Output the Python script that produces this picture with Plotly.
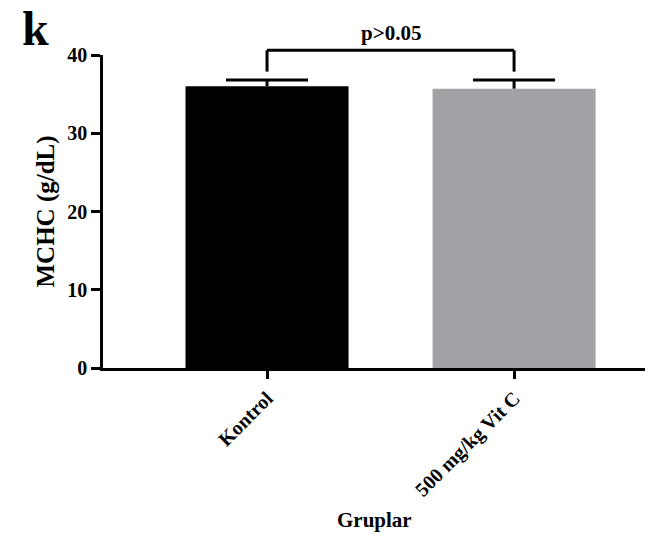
import plotly.graph_objects as go

categories = ["Kontrol", "500 mg/kg Vit C"]
means = [36.0, 35.7]
errors = [0.8, 1.1]
colors = ["#000000", "#a2a1a5"]
y_ticks = [0, 10, 20, 30, 40]
p_text = "p>0.05"

FONT = "Liberation Serif"
xpos = list(range(len(categories)))

fig = go.Figure()
fig.add_trace(go.Bar(
    x=xpos, y=means, width=0.66,
    marker=dict(color=colors, line=dict(width=0)),
    hoverinfo="skip",
))

# upper-only error bars (stem + cap)
hw = 0.166
ex, ey = [], []
for xi, m, e in zip(xpos, means, errors):
    ex += [xi, xi, None, xi - hw, xi + hw, None]
    ey += [m, m + e, None, m + e, m + e, None]
fig.add_trace(go.Scatter(x=ex, y=ey, mode="lines", line=dict(color="#000", width=3),
                         hoverinfo="skip", cliponaxis=False))

fig.update_layout(
    width=663, height=541,
    margin=dict(l=103, r=18, t=55, b=173),
    plot_bgcolor="white", paper_bgcolor="white",
    showlegend=False,
    xaxis=dict(range=[-0.664, 1.53], tickmode="array", tickvals=xpos, ticktext=categories,
               tickangle=-45, ticks="outside", ticklen=8, tickwidth=2.5, tickcolor="#000",
               showline=True, linewidth=2.5, linecolor="#000", showgrid=False, zeroline=False,
               tickfont=dict(family=FONT, size=20, color="#000", weight="bold")),
    yaxis=dict(range=[0, 40], tickmode="array", tickvals=y_ticks,
               ticks="outside", ticklen=9, tickwidth=2.5, tickcolor="#000",
               showline=True, linewidth=2.5, linecolor="#000", showgrid=False, zeroline=False,
               tickfont=dict(family=FONT, size=20, color="#000", weight="bold")),
)

# significance bracket
bt, bb = 1.015, 0.947
for (x0, y0, x1, y1) in [(0, bb, 0, bt), (0, bt, 1, bt), (1, bt, 1, bb)]:
    fig.add_shape(type="line", xref="x", yref="paper", x0=x0, y0=y0, x1=x1, y1=y1,
                  line=dict(color="#000", width=3))

fig.add_annotation(x=0.5, xref="x", y=1.07, yref="paper", text=p_text, showarrow=False,
                   xanchor="center", yanchor="middle",
                   font=dict(family=FONT, size=21, color="#000", weight="bold"))
fig.add_annotation(x=0.5, xref="paper", y=-0.486, yref="paper", text="Gruplar", showarrow=False,
                   xanchor="center", yanchor="middle",
                   font=dict(family=FONT, size=21, color="#000", weight="bold"))
fig.add_annotation(x=-0.107, xref="paper", y=0.5, yref="paper", text="MCHC (g/dL)", showarrow=False,
                   textangle=-90, xanchor="center", yanchor="middle",
                   font=dict(family=FONT, size=25, color="#000", weight="bold"))
fig.add_annotation(x=-0.124, xref="paper", y=1.085, yref="paper", text="k", showarrow=False,
                   xanchor="center", yanchor="middle",
                   font=dict(family=FONT, size=48, color="#000", weight="bold"))

fig.write_html("out.html")
